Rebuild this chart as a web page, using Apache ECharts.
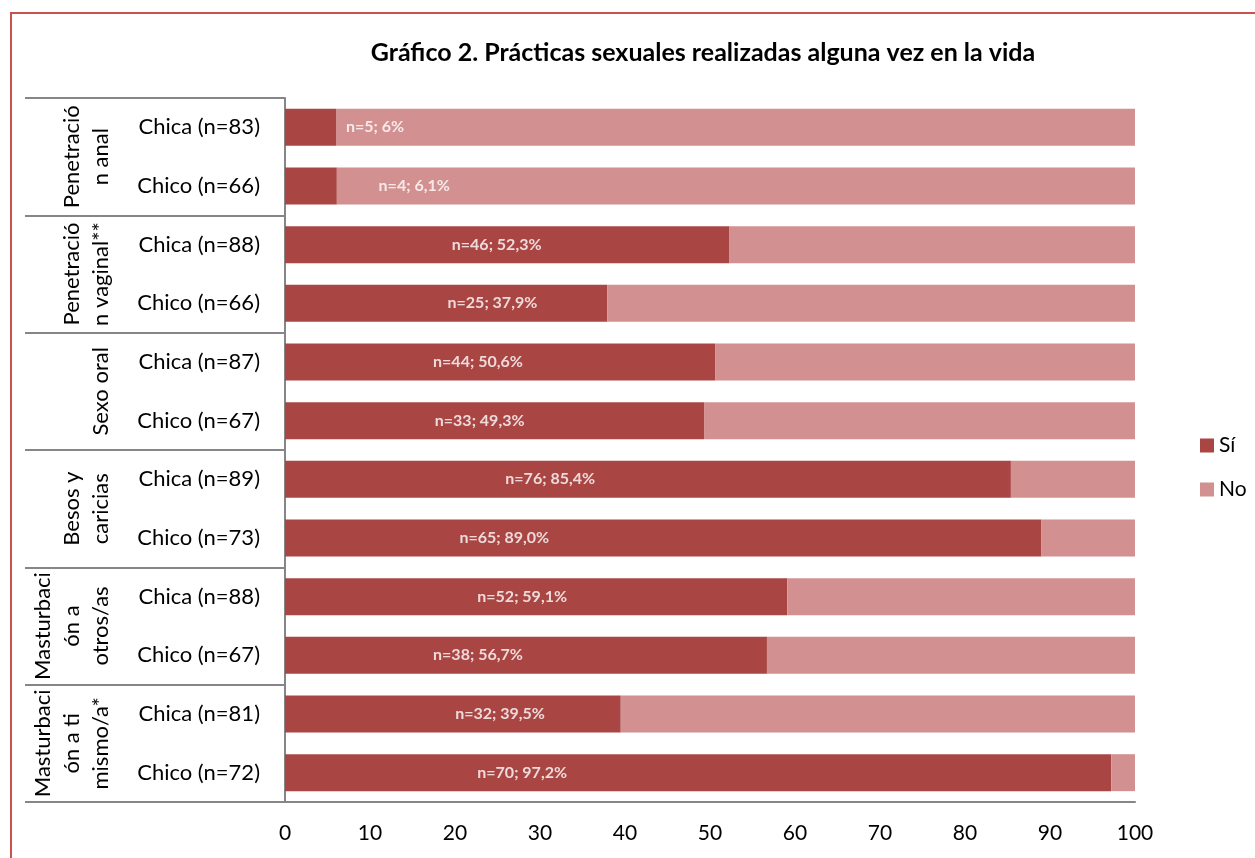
<!DOCTYPE html>
<html>
<head>
<meta charset="utf-8">
<script src="https://cdn.jsdelivr.net/npm/echarts@6/dist/echarts.min.js"></script>
<style>
  html, body { margin: 0; padding: 0; background: #fff; }
  #chart { width: 1255px; height: 858px; }
</style>
</head>
<body>
<div id="chart"></div>
<script>
// filas (de arriba a abajo)
var subcategorias = ['Chica (n=83)', 'Chico (n=66)', 'Chica (n=88)', 'Chico (n=66)', 'Chica (n=87)', 'Chico (n=67)',
  'Chica (n=89)', 'Chico (n=73)', 'Chica (n=88)', 'Chico (n=67)', 'Chica (n=81)', 'Chico (n=72)'];
var grupos = ['Penetració\nn anal', 'Penetració\nn vaginal**', 'Sexo oral', 'Besos y\ncaricias',
  'Masturbaci\nón a\notros/as', 'Masturbaci\nón a ti\nmismo/a*'];
var si = [6, 6.1, 52.3, 37.9, 50.6, 49.3, 85.4, 89.0, 59.1, 56.7, 39.5, 97.2];
var no = [94, 93.9, 47.7, 62.1, 49.4, 50.7, 14.6, 11.0, 40.9, 43.3, 60.5, 2.8];
var etiquetas = ['n=5; 6%', 'n=4; 6,1%', 'n=46; 52,3%', 'n=25; 37,9%', 'n=44; 50,6%', 'n=33; 49,3%',
  'n=76; 85,4%', 'n=65; 89,0%', 'n=52; 59,1%', 'n=38; 56,7%', 'n=32; 39,5%', 'n=70; 97,2%'];
// donde va centrada cada etiqueta (en unidades del eje)
var etiquetaX = [10.6, 15.2, 24.9, 24.4, 22.7, 22.9, 31.2, 25.8, 27.9, 22.7, 25.3, 27.9];
var ticksX = [0, 10, 20, 30, 40, 50, 60, 70, 80, 90, 100];

var FONT = 'Lato, "Open Sans", sans-serif';
var chart = echarts.init(document.getElementById('chart'));

chart.setOption({
  textStyle: { fontFamily: FONT },
  title: {
    text: 'Gráfico 2. Prácticas sexuales realizadas alguna vez en la vida',
    left: 698,
    top: 35,
    textAlign: 'center',
    textStyle: { fontSize: 25, fontWeight: 'bold', color: '#000', fontFamily: FONT }
  },
  legend: {
    orient: 'vertical',
    left: 1195,
    top: 430,
    itemWidth: 14,
    itemHeight: 14,
    itemGap: 23,
    icon: 'rect',
    data: ['Sí', 'No'],
    textStyle: { fontSize: 21, color: '#000', fontFamily: FONT }
  },
  graphic: [{
    type: 'rect',
    shape: { x: 11, y: 13, width: 1400, height: 1000 },
    style: { fill: 'none', stroke: '#C9514F', lineWidth: 2 },
    silent: true
  }],
  grid: { left: 285, right: 120, top: 98, bottom: 56 },
  xAxis: {
    type: 'value',
    min: 0,
    max: 100,
    interval: 10,
    axisLine: { show: true, lineStyle: { color: '#868686', width: 2 } },
    axisTick: { show: false },
    splitLine: { show: false },
    axisLabel: {
      fontSize: 21, color: '#000', margin: 21, fontFamily: FONT,
      formatter: function (v) { return ticksX.indexOf(v) >= 0 ? String(v) : ''; }
    }
  },
  yAxis: [{
    type: 'category',
    inverse: true,
    data: subcategorias,
    axisLine: { show: false },
    axisTick: { show: false },
    axisLabel: { interval: 0, fontSize: 22, color: '#000', margin: 25, fontFamily: FONT }
  }, {
    type: 'category',
    inverse: true,
    position: 'left',
    data: grupos,
    axisLine: { show: true, lineStyle: { color: '#868686', width: 2 } },
    axisTick: { show: true, interval: 0, length: 260, lineStyle: { color: '#868686', width: 2 } },
    axisLabel: { interval: 0, rotate: 90, fontSize: 22, lineHeight: 29, color: '#000', margin: 170, fontFamily: FONT }
  }],
  series: [{
    name: 'Sí',
    type: 'bar',
    stack: 'total',
    yAxisIndex: 0,
    barCategoryGap: '37%',
    itemStyle: { color: '#A94644' },
    data: si
  }, {
    name: 'No',
    type: 'bar',
    stack: 'total',
    yAxisIndex: 0,
    itemStyle: { color: '#D29190' },
    data: no
  }, {
    name: 'etiquetas',
    type: 'scatter',
    yAxisIndex: 0,
    silent: true,
    symbolSize: 1,
    itemStyle: { color: 'transparent' },
    label: {
      show: true,
      position: 'inside',
      color: '#fff',
      fontSize: 16,
      fontWeight: 'bold',
      fontFamily: FONT,
      formatter: function (p) { return etiquetas[p.dataIndex]; }
    },
    data: etiquetaX.map(function (x, i) { return [x, i]; })
  }]
});
</script>
</body>
</html>
